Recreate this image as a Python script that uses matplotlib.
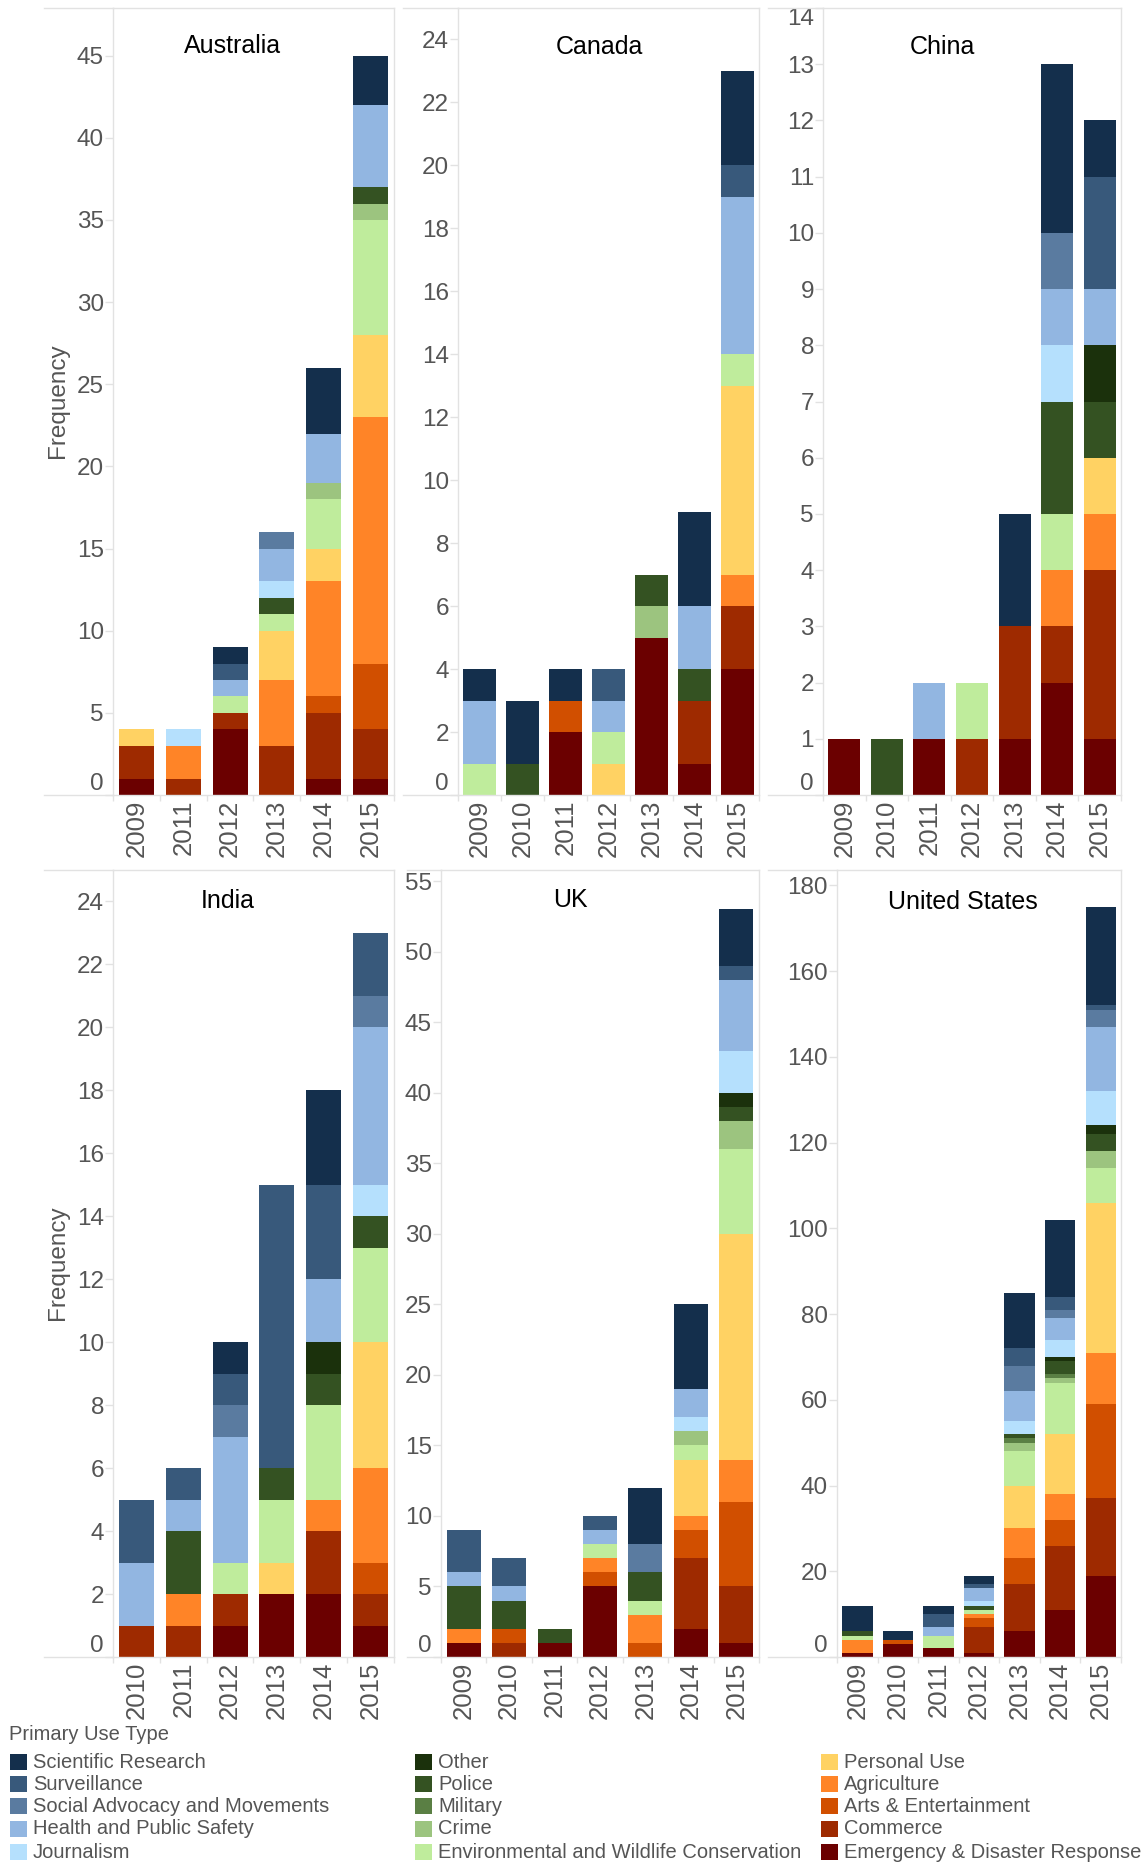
import matplotlib.pyplot as plt
from matplotlib.lines import Line2D
from matplotlib.patches import Rectangle
from matplotlib.transforms import Bbox, TransformedBbox

W, H = 1143, 1863

# stacking order, bottom to top
CATEGORIES = [
    "Emergency & Disaster Response", "Commerce", "Arts & Entertainment",
    "Agriculture", "Personal Use", "Environmental and Wildlife Conservation",
    "Crime", "Military", "Police", "Other", "Journalism",
    "Health and Public Safety", "Social Advocacy and Movements",
    "Surveillance", "Scientific Research",
]
COLORS = {
    "Scientific Research": "#142f4c",
    "Surveillance": "#38597b",
    "Social Advocacy and Movements": "#5a7ba0",
    "Health and Public Safety": "#92b6e1",
    "Journalism": "#b5e0fd",
    "Other": "#1b310c",
    "Police": "#345222",
    "Military": "#5a7f44",
    "Crime": "#9cc47f",
    "Environmental and Wildlife Conservation": "#bfec9c",
    "Personal Use": "#ffd263",
    "Agriculture": "#ff8427",
    "Arts & Entertainment": "#d14f00",
    "Commerce": "#9e2a00",
    "Emergency & Disaster Response": "#6b0000",
}

# counts per year, keyed by use type (missing keys are zero)
aus_years = ["2009", "2011", "2012", "2013", "2014", "2015"]
aus = {
    "Emergency & Disaster Response": [1, 0, 4, 0, 1, 1],
    "Commerce": [2, 1, 1, 3, 4, 3],
    "Arts & Entertainment": [0, 0, 0, 0, 1, 4],
    "Agriculture": [0, 2, 0, 4, 7, 15],
    "Personal Use": [1, 0, 0, 3, 2, 5],
    "Environmental and Wildlife Conservation": [0, 0, 1, 1, 3, 7],
    "Crime": [0, 0, 0, 0, 1, 1],
    "Police": [0, 0, 0, 1, 0, 1],
    "Journalism": [0, 1, 0, 1, 0, 0],
    "Health and Public Safety": [0, 0, 1, 2, 3, 5],
    "Social Advocacy and Movements": [0, 0, 0, 1, 0, 0],
    "Surveillance": [0, 0, 1, 0, 0, 0],
    "Scientific Research": [0, 0, 1, 0, 4, 3],
}

can_years = ["2009", "2010", "2011", "2012", "2013", "2014", "2015"]
can = {
    "Emergency & Disaster Response": [0, 0, 2, 0, 5, 1, 4],
    "Commerce": [0, 0, 0, 0, 0, 2, 2],
    "Arts & Entertainment": [0, 0, 1, 0, 0, 0, 0],
    "Agriculture": [0, 0, 0, 0, 0, 0, 1],
    "Personal Use": [0, 0, 0, 1, 0, 0, 6],
    "Environmental and Wildlife Conservation": [1, 0, 0, 1, 0, 0, 1],
    "Crime": [0, 0, 0, 0, 1, 0, 0],
    "Police": [0, 1, 0, 0, 1, 1, 0],
    "Health and Public Safety": [2, 0, 0, 1, 0, 2, 5],
    "Surveillance": [0, 0, 0, 1, 0, 0, 1],
    "Scientific Research": [1, 2, 1, 0, 0, 3, 3],
}

chn_years = ["2009", "2010", "2011", "2012", "2013", "2014", "2015"]
chn = {
    "Emergency & Disaster Response": [1, 0, 1, 0, 1, 2, 1],
    "Commerce": [0, 0, 0, 1, 2, 1, 3],
    "Agriculture": [0, 0, 0, 0, 0, 1, 1],
    "Personal Use": [0, 0, 0, 0, 0, 0, 1],
    "Environmental and Wildlife Conservation": [0, 0, 0, 1, 0, 1, 0],
    "Police": [0, 1, 0, 0, 0, 2, 1],
    "Other": [0, 0, 0, 0, 0, 0, 1],
    "Journalism": [0, 0, 0, 0, 0, 1, 0],
    "Health and Public Safety": [0, 0, 1, 0, 0, 1, 1],
    "Social Advocacy and Movements": [0, 0, 0, 0, 0, 1, 0],
    "Surveillance": [0, 0, 0, 0, 0, 0, 2],
    "Scientific Research": [0, 0, 0, 0, 2, 3, 1],
}

ind_years = ["2010", "2011", "2012", "2013", "2014", "2015"]
ind = {
    "Emergency & Disaster Response": [0, 0, 1, 2, 2, 1],
    "Commerce": [1, 1, 1, 0, 2, 1],
    "Arts & Entertainment": [0, 0, 0, 0, 0, 1],
    "Agriculture": [0, 1, 0, 0, 1, 3],
    "Personal Use": [0, 0, 0, 1, 0, 4],
    "Environmental and Wildlife Conservation": [0, 0, 1, 2, 3, 3],
    "Police": [0, 2, 0, 1, 1, 1],
    "Other": [0, 0, 0, 0, 1, 0],
    "Journalism": [0, 0, 0, 0, 0, 1],
    "Health and Public Safety": [2, 1, 4, 0, 2, 5],
    "Social Advocacy and Movements": [0, 0, 1, 0, 0, 1],
    "Surveillance": [2, 1, 1, 9, 3, 2],
    "Scientific Research": [0, 0, 1, 0, 3, 0],
}

uk_years = ["2009", "2010", "2011", "2012", "2013", "2014", "2015"]
uk = {
    "Emergency & Disaster Response": [1, 0, 1, 5, 0, 2, 1],
    "Commerce": [0, 1, 0, 0, 0, 5, 4],
    "Arts & Entertainment": [0, 1, 0, 1, 1, 2, 6],
    "Agriculture": [1, 0, 0, 1, 2, 1, 3],
    "Personal Use": [0, 0, 0, 0, 0, 4, 16],
    "Environmental and Wildlife Conservation": [0, 0, 0, 1, 1, 1, 6],
    "Crime": [0, 0, 0, 0, 0, 1, 2],
    "Police": [3, 2, 1, 0, 2, 0, 1],
    "Other": [0, 0, 0, 0, 0, 0, 1],
    "Journalism": [0, 0, 0, 0, 0, 1, 3],
    "Health and Public Safety": [1, 1, 0, 1, 0, 2, 5],
    "Social Advocacy and Movements": [0, 0, 0, 0, 2, 0, 0],
    "Surveillance": [3, 2, 0, 1, 0, 0, 1],
    "Scientific Research": [0, 0, 0, 0, 4, 6, 4],
}

us_years = ["2009", "2010", "2011", "2012", "2013", "2014", "2015"]
us = {
    "Emergency & Disaster Response": [1, 3, 2, 1, 6, 11, 19],
    "Commerce": [0, 0, 0, 6, 11, 15, 18],
    "Arts & Entertainment": [0, 1, 0, 2, 6, 6, 22],
    "Agriculture": [3, 0, 0, 1, 7, 6, 12],
    "Personal Use": [0, 0, 0, 0, 10, 14, 35],
    "Environmental and Wildlife Conservation": [1, 0, 3, 1, 8, 12, 8],
    "Crime": [0, 0, 0, 0, 2, 1, 4],
    "Military": [0, 0, 0, 0, 1, 1, 0],
    "Police": [1, 0, 0, 1, 1, 3, 4],
    "Other": [0, 0, 0, 0, 0, 1, 2],
    "Journalism": [0, 0, 0, 1, 3, 4, 8],
    "Health and Public Safety": [0, 0, 2, 3, 7, 5, 15],
    "Social Advocacy and Movements": [0, 0, 0, 0, 6, 2, 4],
    "Surveillance": [0, 0, 3, 1, 4, 3, 1],
    "Scientific Research": [6, 2, 2, 2, 13, 18, 23],
}

# name, years, data, y max, tick step, plot box in px (l, t, r, b),
# left end of header rule, title centre (x, y)
panels = [
    ("Australia", aus_years, aus, 47.9, 5, (113, 8, 394, 795), 44, (233, 46)),
    ("Canada", can_years, can, 25.0, 2, (458, 8, 759, 795), 403, (599, 47)),
    ("China", chn_years, chn, 14.0, 1, (823, 8, 1121, 795), 768, (942, 47)),
    ("India", ind_years, ind, 25.0, 2, (113, 870, 394, 1657), 44, (228, 901)),
    ("UK", uk_years, uk, 55.8, 5, (441, 870, 759, 1657), 407, (570, 900)),
    ("United States", us_years, us, 183.6, 20, (837, 870, 1121, 1657), 768, (963, 902)),
]

FONT = ["Liberation Sans", "DejaVu Sans"]
FRAME = "#e2e2e2"
TXT = "#555555"


def fx(x):
    return x / W


def fy(y):
    return 1 - y / H


fig = plt.figure(figsize=(W / 100, H / 100), dpi=100)
clip = TransformedBbox(Bbox.from_extents(0, 0, 1, fy(7)), fig.transFigure)

for name, years, data, ymax, step, (l, t, r, b), hl, (tx, ty) in panels:
    ax = fig.add_axes([fx(l), fy(b), fx(r) - fx(l), fy(t) - fy(b)])
    xs = list(range(len(years)))
    bottom = [0] * len(years)
    for cat in CATEGORIES:
        vals = data.get(cat, [0] * len(years))
        ax.bar(xs, vals, width=0.75, bottom=bottom, color=COLORS[cat], linewidth=0)
        bottom = [a + v for a, v in zip(bottom, vals)]

    ticks = list(range(0, int(ymax) + 1, step))
    ax.set_xlim(-0.5, len(years) - 0.5)
    ax.set_ylim(0, ymax)
    ax.set_yticks(ticks)
    ax.set_xticks(xs)
    ax.set_xticklabels(years, rotation=90, fontsize=18.5, family=FONT, color=TXT)
    ax.set_xticks([i - 0.5 for i in range(len(years) + 1)], minor=True)
    ax.tick_params(axis="x", which="major", length=0, pad=3.5)
    ax.tick_params(axis="x", which="minor", length=4, color=FRAME, width=1)
    ax.tick_params(axis="y", length=5.5, pad=1, color=FRAME, width=1,
                   labelsize=17.5, labelcolor=TXT)
    labels = ax.get_yticklabels()
    for lab in labels:
        lab.set_family(FONT)
        lab.set_clip_box(clip)
        lab.set_clip_on(True)
    # edge labels are pulled inside the panel
    labels[0].set_verticalalignment("bottom")
    if ticks[-1] == ymax:
        labels[-1].set_verticalalignment("top")
    for sp in ax.spines.values():
        sp.set_color(FRAME)
        sp.set_linewidth(1)

    # header and base rules run across the label column too
    fig.add_artist(Line2D([fx(hl), fx(l)], [fy(t), fy(t)], color=FRAME, lw=1))
    fig.add_artist(Line2D([fx(hl), fx(l)], [fy(b), fy(b)], color=FRAME, lw=1))

    fig.text(fx(tx), fy(ty), name, ha="center", va="center", fontsize=18,
             family=FONT, color="black")

for yc in (401, 1263):
    fig.text(fx(58), fy(yc), "Frequency", rotation=90, ha="center", va="center",
             fontsize=17.5, family=FONT, color=TXT)

# legend: three columns of five
legend_cols = [
    (10, ["Scientific Research", "Surveillance", "Social Advocacy and Movements",
          "Health and Public Safety", "Journalism"]),
    (415, ["Other", "Police", "Military", "Crime",
           "Environmental and Wildlife Conservation"]),
    (821, ["Personal Use", "Agriculture", "Arts & Entertainment", "Commerce",
           "Emergency & Disaster Response"]),
]
row_y = [1762, 1784, 1806, 1829, 1852]

fig.text(fx(9), fy(1735), "Primary Use Type", ha="left", va="center",
         fontsize=14.5, family=FONT, color=TXT)
for x0, cats in legend_cols:
    for cat, yc in zip(cats, row_y):
        fig.add_artist(Rectangle((fx(x0), fy(yc + 8)), 17 / W, 16 / H,
                                 transform=fig.transFigure, color=COLORS[cat], lw=0))
        fig.text(fx(x0 + 23), fy(yc), cat, ha="left", va="center",
                 fontsize=14.5, family=FONT, color=TXT)

fig.savefig("out.png", dpi=100)
